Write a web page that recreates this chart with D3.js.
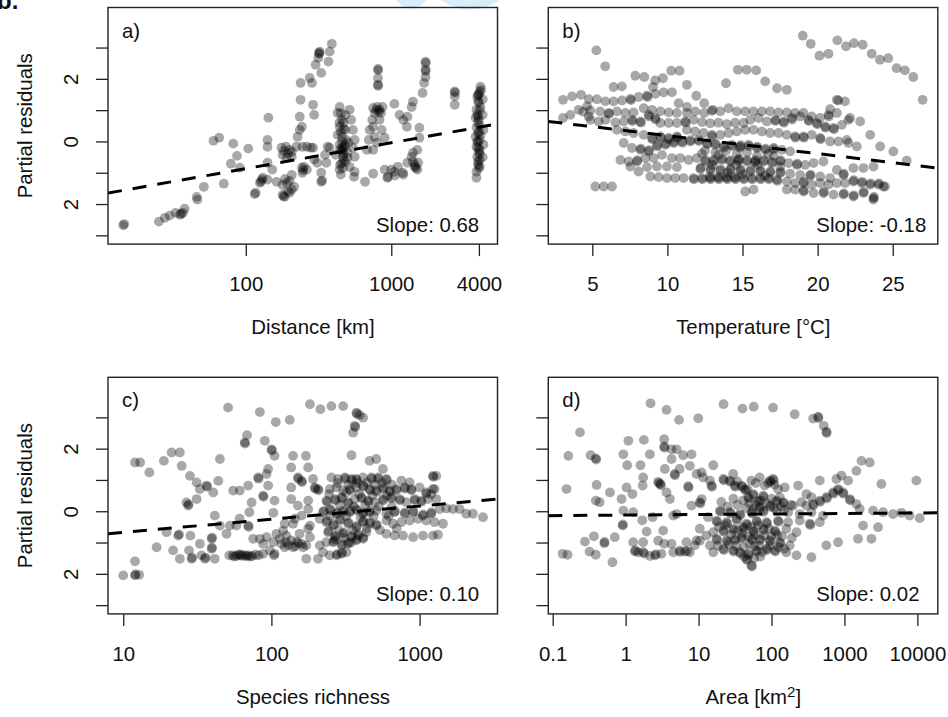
<!DOCTYPE html>
<html><head><meta charset="utf-8">
<script src="https://cdn.jsdelivr.net/npm/d3@7"></script>
<style>
body{margin:0;background:#fff}
svg{display:block}
text{font-family:"Liberation Sans",Arial,Helvetica,sans-serif;fill:#111}
</style>
</head><body>
<svg id="chart" width="948" height="717"></svg>
<script>
// ---------------- DATA ----------------
const residTicks = [-3, -2, -1, 0, 1, 2, 3];
const residTickLabels = ["", "2", "", "0", "", "2", ""];
const residDomain = [-3.28, 4.28];

const distanceTicks = [100, 1000, 4000];
const temperatureTicks = [5, 10, 15, 20, 25];
const richnessTicks = [10, 100, 1000];
const areaTicks = [0.1, 1, 10, 100, 1000, 10000];
const areaTickLabels = ["0.1", "1", "10", "100", "1000", "10000"];

const distanceDomain = [11.3, 5370];
const temperatureDomain = [2.07, 28.0];
const richnessDomain = [7.89, 3357];
const areaDomain = [0.0871, 19055];

const panelLetters = ["a)", "b)", "c)", "d)"];
const slopeLabels = ["Slope: 0.68", "Slope: -0.18", "Slope: 0.10", "Slope: 0.02"];
const xTitles = ["Distance [km]", "Temperature [°C]", "Species richness", "Area [km"];
const yTitle = "Partial residuals";

// fitted regression lines (x, residual) at the plot edges
const distanceFit = [[11.3, -1.65], [5370, 0.56]];
const temperatureFit = [[2.07, 0.64], [28.0, -0.85]];
const richnessFit = [[7.89, -0.72], [3357, 0.39]];
const areaFit = [[0.0871, -0.14], [19055, -0.05]];

// partial residuals: [distance km, residual]
const distancePts = [
[14.4,-2.68],[14.6,-2.64],[25.3,-2.56],[27.8,-2.44],[30,-2.37],[33,-2.28],[35.3,-2.34],[37,-2.28],[36,-2.31],[38,-2.15],
[46,-1.77],[46.5,-1.86],[51.5,-1.45],[60,0.02],[65.6,0.12],[70.6,-1.35],[79,-0.71],[82,-0.07],[87,-0.46],[91,-0.84],[104,-0.23],
[115,-1.68],[117,-1.64],[125,-1.32],[127,-1.28],[129,-1.22],[131,-1.16],[141,-1.22],[143,0.76],[141,0.05],[141,-0.17],[141,-0.68],[152,-0.9],
[176,-0.2],[189,-0.17],[200,-0.27],[191,-0.52],[179,-0.43],[207,-0.33],[183,-0.3],[195,-0.38],
[163,-1.29],[179,-1.39],[192,-1.32],[200,-1.26],[207,-1.07],[215,-1.45],[186,-1.2],
[179,-1.71],[185,-1.77],[200,-1.64],[207,-1.54],[182,-1.75],[195,-1.6],
[207,-0.49],[223,-0.17],[227,0.15],[235,0.37],[243,0.47],[235,0.79],[238,1.33],[238,1.87],
[245,-0.17],[263,-0.17],[280,-0.2],[290,-0.2],[243,-0.84],[252,-0.81],[263,-0.9],[245,-1.0],[248,-0.92],
[275,2.03],[285,1.87],[290,1.17],[295,0.85],[302,2.45],[315,2.67],[318,2.83],[322,2.87],[320,2.8],
[330,2.19],[370,2.55],[377,2.87],[390,3.12],
[295,-0.58],[310,-0.68],[330,-1.0],[330,-1.29],[335,-1.25],[358,-0.68],[365,-0.17],[377,-0.2],[350,-0.43],
[442,1.1],[458,0.69],[442,0.47],[458,0.15],[442,-0.1],[466,-0.27],[500,-0.36],[466,-0.49],[483,-0.65],[442,-0.9],[517,-0.81],
[500,-0.52],[508,-0.04],[483,0.37],[483,0.85],[428,0.91],[428,0.21],[415,-0.43],[475,-0.17],[490,0.05],[450,-1.06],
[455,-0.3],[470,-0.6],[445,-0.75],[460,-0.2],[480,-0.1],[450,0.3],[470,0.6],
[450,0.9],[470,0.4],[460,0.0],[470,-0.4],[455,-0.7],[465,-0.85],[440,0.6],[445,-0.25],
[517,1.01],[530,0.69],[545,0.37],[560,0.05],[545,-0.2],[560,-0.49],
[555,-1.13],[560,-0.97],[660,-1.29],[680,-0.27],[700,0.05],[710,0.37],
[750,1.07],[800,1.1],[830,1.01],[870,1.1],[770,0.91],[850,0.91],[790,1.0],[820,0.95],
[740,0.69],[750,0.47],[770,0.15],[800,-0.04],[750,-0.27],
[810,2.32],[812,2.28],[810,2.03],[810,1.81],[812,1.78],
[830,0.69],[860,0.37],[900,0.12],[750,-1.03],
[900,-0.9],[950,-1.13],[1000,-0.9],[1050,-0.97],[1110,-0.81],[1210,-1.06],[1290,-0.68],[940,-1.16],[1060,-1.09],[1200,-1.0],
[1050,1.2],[1140,0.85],[1210,0.69],[1280,0.47],[1290,0.79],[1380,1.1],[1410,1.27],
[1380,-0.49],[1410,-0.65],[1450,-0.81],[1510,-0.9],[1530,-0.68],[1410,-0.36],[1510,-0.27],[1450,-0.75],[1480,-0.85],
[1560,0.44],[1640,1.55],[1680,1.87],[1720,2.06],[1720,2.29],[1725,2.25],[1720,2.55],[1725,2.5],[1560,0.12],
[2730,1.6],[2740,1.56],[2730,1.44],[2730,1.17],
[4100,1.75],[4050,1.59],[3900,1.43],[4000,1.24],[3850,1.01],[3900,0.85],[3800,0.76],[3950,0.6],[3850,0.44],[4000,0.31],
[3800,0.15],[3950,-0.01],[3850,-0.17],[4000,-0.33],[3900,-0.49],[4050,-0.58],[3950,-0.74],[3850,-0.97],[4250,1.35],[4250,0.85],
[4300,0.37],[4300,-0.1],[4250,-0.5],[3850,-1.16],[4150,1.65],[4100,1.1],[4000,0.7],[4100,0.2],[4050,-0.25],[4000,-0.85],[3950,1.5],[3900,0.0],
[4000,1.5],[3950,1.3],[4050,1.0],[3950,0.8],[4050,0.5],[3950,0.25],[4050,0.05],[3950,-0.2],[4050,-0.4],[3950,-0.65],[4050,-0.8]
];

// [temperature °C, residual]
const temperaturePts = [
[5.27,2.91],[5.86,2.4],[7.86,2.1],[8.46,2.06],[9.19,1.95],[9.7,2.02],[9.04,1.74],[10.25,2.26],[10.81,2.26],[6.42,1.74],[6.97,1.76],
[11.3,1.81],[13.9,1.86],[14.69,2.29],[15.28,2.29],[15.91,2.27],[16.51,1.92],[17.3,1.7],[17.95,1.65],
[19.01,3.38],[19.54,3.12],[20.12,2.74],[20.72,2.8],[21.31,3.23],[21.89,3.04],[22.42,3.14],[23.0,3.09],[23.6,2.8],[24.15,2.61],
[24.7,2.66],[25.26,2.34],[25.81,2.27],[26.37,2.06],[26.99,1.33],[21.38,1.31],[21.82,1.28],[20.83,1.03],
[3.05,1.33],[3.65,1.44],[4.25,1.49],[4.76,1.35],[5.31,1.35],[5.87,1.28],[6.42,1.28],[6.98,1.31],[7.53,1.36],[7.58,1.32],
[8.08,1.42],[8.64,1.46],[8.68,1.42],[9.19,1.52],[9.75,1.57],[10.3,1.57],[10.75,1.22],[11.3,1.1],[11.92,1.46],[12.45,1.22],[13.03,1.01],
[3.05,0.75],[3.54,0.85],[4.09,1.01],[4.65,1.12],[4.76,0.8],[4.4,0.95],
[4.87,0.99],[5.53,0.96],[6.09,0.91],[6.12,0.88],[6.64,0.96],[7.2,0.91],[7.75,0.93],[8.42,1.06],[8.97,1.01],[9.53,0.96],
[10.08,0.93],[10.63,0.91],[11.3,0.91],[11.85,0.96],[12.45,0.91],[12.95,0.98],[13.52,0.96],[14.07,1.06],[14.62,0.96],[15.18,0.96],
[15.73,0.96],[16.29,0.96],[16.84,0.96],[17.4,0.93],[17.95,0.93],[18.5,0.91],[19.06,0.91],[19.61,0.8],[20.17,0.75],[20.72,0.85],
[20.75,0.8],[21.28,0.91],[21.28,1.33],
[4.87,0.69],[5.42,0.64],[5.87,0.69],[6.53,0.61],[7.09,0.64],[7.64,0.69],[7.68,0.65],[8.2,0.64],[8.24,0.6],[8.75,0.85],
[8.78,0.8],[9.19,0.75],[9.22,0.7],[9.53,0.59],[10.08,0.59],[10.63,0.59],[11.19,0.64],[11.22,0.6],[11.74,0.69],[12.3,0.62],
[12.85,0.58],[13.4,0.6],[13.95,0.55],[14.5,0.6],[15.07,0.59],[15.51,0.69],[16.07,0.75],[16.62,0.64],[17.18,0.69],[17.2,0.65],
[17.73,0.64],[17.76,0.6],[18.28,0.75],[18.3,0.7],[18.84,0.8],[19.39,0.69],[19.42,0.65],[19.95,0.59],[19.98,0.55],[20.5,0.48],
[20.53,0.44],[21.06,0.43],[21.09,0.39],[21.61,0.53],[22.05,0.69],[22.83,0.64],[22.16,0.75],
[6.64,0.37],[7.2,0.32],[7.75,0.27],[8.42,0.21],[8.97,0.11],[9.0,0.07],[9.53,0.16],[9.56,0.12],[10.08,0.11],[10.11,0.07],
[10.63,0.16],[10.66,0.12],[11.3,0.37],[11.85,0.32],[12.41,0.27],[12.96,0.21],[12.99,0.17],[13.52,0.21],[14.07,0.27],[14.62,0.32],
[15.18,0.37],[15.73,0.37],[16.29,0.32],[16.84,0.27],[17.4,0.27],[17.95,0.21],[18.5,0.16],[18.53,0.12],[19.06,0.16],[19.09,0.12],
[19.61,0.21],[20.17,0.11],[20.2,0.07],[20.83,0.0],[21.39,0.0],[21.94,0.05],[23.5,0.21],[24.16,-0.16],[25.04,-0.32],[25.93,-0.61],
[7.09,-0.05],[7.64,-0.21],[8.2,-0.27],[8.23,-0.23],[8.75,-0.32],[8.78,-0.28],[9.3,-0.16],[9.33,-0.12],[9.86,-0.11],[9.89,-0.07],
[10.41,-0.05],[10.44,-0.01],[10.97,0.0],[11.0,-0.04],[11.52,0.0],[11.55,0.04],[12.08,0.05],[12.11,0.01],[12.63,-0.05],[12.66,-0.09],
[13.18,-0.11],[13.21,-0.07],[13.74,-0.16],[13.77,-0.2],[14.29,-0.11],[14.32,-0.15],[14.85,-0.16],[14.88,-0.12],[14.82,-0.2],[15.4,-0.11],
[15.43,-0.15],[15.96,-0.21],[15.99,-0.17],[16.51,-0.27],[16.54,-0.23],[17.07,-0.21],[17.1,-0.25],[17.62,-0.27],[18.17,-0.32],[22.05,-0.05],[22.61,-0.16],
[6.87,-0.59],[7.42,-0.64],[7.97,-0.64],[8.0,-0.6],[8.53,-0.53],[9.08,-0.53],[9.64,-0.43],[10.3,-0.53],[10.85,-0.53],[11.41,-0.59],
[11.96,-0.53],[12.52,-0.64],[12.55,-0.6],[13.07,-0.59],[13.1,-0.63],[13.63,-0.59],[13.66,-0.55],[14.18,-0.64],[14.21,-0.6],[14.74,-0.59],
[14.77,-0.55],[14.71,-0.63],[15.29,-0.64],[15.32,-0.6],[15.85,-0.64],[15.88,-0.6],[15.82,-0.68],[16.4,-0.64],[16.43,-0.6],[16.95,-0.69],
[16.98,-0.65],[17.51,-0.64],[17.54,-0.6],[18.06,-0.69],[18.62,-0.75],[18.65,-0.71],[19.17,-0.75],[19.73,-0.69],[20.39,-0.64],[21.28,-0.91],
[21.72,-1.07],[21.75,-1.03],[22.38,-0.85],[23.05,-0.85],[23.72,-0.8],[12.3,-0.39],[13.4,-0.43],[14.62,-0.39],[15.96,-0.46],[17.07,-0.46],
[12.5,-0.3],[13.2,-0.35],[13.9,-0.3],[14.6,-0.75],[15.3,-0.35],[16.0,-0.75],[16.7,-0.4],[13.0,-0.75],[14.0,-1.0],[15.0,-1.05],[16.5,-1.1],[17.5,-0.8],
[7.53,-0.8],[8.08,-0.96],[8.64,-0.82],[9.3,-0.8],[9.97,-0.8],[10.63,-0.82],[12.19,-0.88],[12.22,-0.84],[12.85,-0.91],[12.88,-0.87],
[13.52,-0.93],[13.55,-0.89],[14.18,-0.91],[14.21,-0.87],[14.85,-0.93],[14.88,-0.89],[15.51,-0.96],[15.54,-0.92],[16.18,-0.96],[16.21,-0.92],
[16.84,-0.99],[16.87,-0.95],[17.51,-1.01],[17.54,-0.97],[18.17,-1.03],[18.84,-1.07],[19.5,-1.1],[19.53,-1.06],[20.17,-1.12],[20.83,-1.17],
[8.86,-1.12],[9.41,-1.14],[9.97,-1.17],[10.52,-1.17],[11.08,-1.17],[11.74,-1.17],[11.77,-1.21],[12.3,-1.17],[12.33,-1.21],[12.85,-1.17],
[12.88,-1.21],[12.82,-1.13],[13.4,-1.17],[13.43,-1.21],[13.37,-1.13],[13.96,-1.17],[13.99,-1.21],[13.93,-1.13],[14.51,-1.17],[14.54,-1.21],
[14.48,-1.13],[15.07,-1.17],[15.1,-1.21],[15.62,-1.17],[15.65,-1.21],[16.18,-1.17],[16.21,-1.21],[16.73,-1.17],[16.76,-1.21],[17.29,-1.22],
[17.32,-1.26],[17.95,-1.28],[18.5,-1.33],[19.06,-1.33],[19.09,-1.29],[19.61,-1.38],[20.17,-1.33],[20.72,-1.38],[21.28,-1.33],[21.83,-1.33],
[22.38,-1.28],[22.41,-1.24],[22.94,-1.33],[22.97,-1.29],[23.5,-1.38],[23.53,-1.34],[24.05,-1.38],[24.08,-1.34],
[5.2,-1.44],[5.76,-1.44],[6.31,-1.44],[15.18,-1.6],[15.73,-1.54],[17.95,-1.54],[18.5,-1.54],[19.06,-1.6],[19.09,-1.56],[19.73,-1.65],
[20.39,-1.65],[20.42,-1.61],[21.06,-1.7],[21.72,-1.7],[21.75,-1.66],[22.38,-1.76],[22.41,-1.72],[23.05,-1.65],[23.08,-1.61],[23.72,-1.81],
[23.75,-1.77],[24.38,-1.44],[23.71,-1.86],[24.48,-1.44]
];

// [species richness, residual]
const richnessPts = [
[10,-2.05],[12,-2.05],[12.1,-2.02],[12.8,-2.03],[12,-1.6],[12,1.56],[13,1.56],[15,1.24],[16.8,-1.15],[18.8,1.61],[21.2,1.88],[24.1,1.88],
[19.6,-0.67],[21.7,-1.25],[23.5,-0.78],[23.8,-0.74],[24.8,1.45],[24.1,-1.52],[27.4,0.18],[27.6,0.22],[26.7,0.28],[28.2,1.13],[28.9,-1.52],
[29.2,-1.48],[28.4,-0.78],[27.8,-1.25],[31.3,0.39],[31.3,0.92],[32.9,-1.04],[33.7,-1.41],[35.6,-1.52],[35.9,-1.48],[36.5,0.82],[36.8,0.78],
[32.9,0.71],[39.5,-0.88],[39.8,-0.84],[39.5,-1.2],[39.8,-1.16],[40.5,0.6],[41.5,-0.14],[44.9,1.67],[41.5,-1.52],[43.8,0.97],[44.9,-0.46],
[51,3.31],[52,-1.41],[55,-1.41],[58,-1.43],[61,-1.41],[64,-1.43],[67,-1.41],[70,-1.41],[74,-1.43],[78,-1.39],[82,-1.41],[56,-1.45],
[63,-1.39],[72,-1.45],[60,-1.38],[68,-1.44],
[49.8,-0.72],[52.5,-0.46],[55.2,0.66],[61.2,0.66],[69.7,0.82],[66,2.2],[66.5,2.16],[68.5,2.43],[83.6,3.17],[90.2,2.25],[100,1.98],
[101,1.94],[105,1.77],[107,2.85],[133,2.92],[81.3,1.08],[82,1.04],[92.7,1.19],[95,1.35],[87.9,0.5],[88.5,0.46],[95,0.82],[105,0.34],
[103,-0.05],[73.5,0.28],[69.7,-0.46],[70.3,-0.5],[75.3,-0.88],[83.6,-0.88],[92.7,-0.83],[87.9,-1.04],[97.5,-1.25],[104,-1.41],[108,-0.72],
[114,-0.88],[120,-0.62],[123,-0.4],[140,-0.4],[140,1.77],[136,1.4],[151,1.08],[152,1.04],[160,0.97],[161,0.93],[171,1.77],[177,1.4],
[182,3.42],[214,3.26],[254,3.36],[305,3.36],[375,3.15],[378,3.11],[394,3.07],[416,2.99],[365,2.73],[368,2.69],[356,2.51],[347,1.79],
[460,1.61],[510,1.67],[566,1.35],[1230,1.13],[1240,1.1],[1297,1.13],[1230,0.71],
[88,-1.36],[105,-1.36],[103,-0.99],[117,-1.04],[126,-0.99],[136,-0.93],[148,-0.97],[160,-1.04],[172,-1.09],[123,-1.15],[140,-1.15],
[164,-1.15],[130,-1.08],[152,-1.02],[145,-1.12],[126,-0.78],[155,-0.72],[177,-0.56],[182,-0.83],
[172,-1.52],[206,-1.52],[223,-1.31],[248,-1.41],[275,-1.41],[278,-1.37],[297,-1.36],[300,-1.32],[321,-1.31],[212,-1.09],[235,-0.99],
[71,-0.03],[61,-0.24],[58,-0.46],[136,0.76],[136,0.39],[151,0.18],[177,0.34],[196,0.76],[198,0.72],[206,0.71],[208,0.67],[191,1.03],
[177,0.07],[160,-0.14],[144,-0.24],[182,-0.46],[212,-0.24],
[254,1.08],[282,1.03],[313,1.08],[316,1.04],[347,1.03],[350,0.99],[374,1.03],[377,0.99],[415,1.08],[473,1.08],[476,1.04],[525,1.08],
[528,1.04],[597,1.03],[600,0.99],[753,0.98],[857,0.92],
[248,0.71],[275,0.76],[305,0.66],[338,0.71],[341,0.67],[374,0.76],[415,0.82],[418,0.78],[460,0.71],[463,0.67],[510,0.66],[513,0.62],
[566,0.76],[569,0.72],[628,0.66],[631,0.62],[697,0.71],[700,0.67],[794,0.76],[797,0.72],[879,0.71],[882,0.67],[1000,0.76],[1109,0.6],
[1112,0.56],[1199,0.55],[1262,0.71],
[235,0.34],[238,0.3],[268,0.39],[271,0.35],[297,0.45],[300,0.41],[329,0.29],[332,0.25],[365,0.39],[405,0.45],[408,0.41],[449,0.34],
[452,0.3],[498,0.29],[566,0.39],[569,0.35],[646,0.45],[649,0.41],[735,0.39],[738,0.35],[815,0.29],[927,0.39],[930,0.35],[1028,0.34],
[1031,0.3],[1140,0.39],[1297,0.39],
[223,-0.03],[226,0.01],[248,0.07],[251,0.03],[275,-0.08],[278,-0.04],[305,0.02],[308,-0.02],[338,-0.03],[341,0.01],[374,0.07],[377,0.03],
[415,-0.08],[418,-0.04],[460,-0.03],[463,0.01],[510,0.02],[597,-0.08],[679,-0.03],[682,0.01],[794,-0.08],[797,-0.04],[904,-0.03],[907,0.01],
[1054,-0.14],[1057,-0.1],[1199,-0.08],[1202,-0.04],[1365,0.07],[1514,0.09],[1679,0.07],[1862,0.07],[2065,-0.08],[2291,-0.08],[2679,-0.19],
[235,-0.35],[238,-0.31],[261,-0.46],[264,-0.42],[289,-0.3],[292,-0.26],[329,-0.4],[332,-0.36],[374,-0.51],[377,-0.47],[415,-0.35],[418,-0.31],
[460,-0.4],[463,-0.36],[510,-0.46],[513,-0.42],[597,-0.3],[662,-0.4],[753,-0.35],[857,-0.3],[975,-0.24],[1109,-0.3],[1262,-0.35],[1438,-0.4],
[241,-0.67],[244,-0.63],[268,-0.83],[271,-0.79],[305,-0.72],[308,-0.68],[347,-0.83],[350,-0.79],[385,-0.78],[388,-0.74],[437,-0.67],[597,-0.72],
[679,-0.78],[773,-0.78],[904,-0.83],[1054,-0.78],[1230,-0.78],[1330,-0.75],
[261,-0.99],[264,-0.95],[297,-1.09],[300,-1.05],[329,-1.04],[332,-1.0],[374,-0.93],[377,-0.89],[415,-0.88],[418,-0.84],
[245,0.55],[290,0.2],[320,0.6],[360,0.15],[390,0.55],[430,0.2],[480,0.5],[530,0.15],[600,0.5],[650,0.15],
[250,-0.15],[285,-0.6],[320,-0.15],[355,-0.6],[400,-0.2],[440,-0.55],[490,-0.15],[540,-0.6],[620,-0.15],[700,-0.55],
[280,0.9],[330,0.85],[380,0.9],[440,0.92],[500,0.85],[560,0.9],[650,0.85],[270,-0.9],[310,-0.85],[345,-1.0]
];

// [area km², residual]
const areaPts = [
[2.2,3.45],[3.64,3.24],[5.4,2.92],[9.9,2.97],[22,3.42],[40,3.28],[57,3.34],[105,3.31],[208,3.1],[372,2.96],[436,3.02],[440,2.98],
[520,2.73],[566,2.54],[570,2.5],
[0.237,2.52],[0.164,1.77],[0.155,0.71],[0.137,-1.36],[0.16,-1.39],[0.331,1.79],[0.39,1.69],[0.395,1.65],[0.4,0.84],[0.39,0.34],[0.44,0.29],
[0.277,-0.97],[0.368,-0.8],[0.51,-1.02],[0.515,-0.98],[0.32,-1.29],[0.39,-1.39],[0.66,-1.63],
[0.61,0.6],[0.71,-0.83],[0.91,-0.46],[0.92,-0.42],[0.88,0.39],[0.93,0.02],[1.27,-0.03],
[0.93,1.82],[1.05,1.47],[1.03,0.76],[1.24,0.55],[1.09,2.25],[1.78,2.28],[1.6,1.47],[2.15,1.82],[1.74,1.08],[1.71,0.82],
[1.27,-0.99],[1.34,-1.29],[1.36,-1.25],[1.74,-0.99],[1.49,-1.31],[1.74,-1.31],[2.15,-1.43],[2.52,-1.41],[3.1,-1.36],[1.8,-1.35],[2.6,-1.38],
[1.69,-0.29],[2.34,-0.19],[1.94,-0.65],[3.27,-0.62],[2.8,-0.94],
[2.8,0.94],[2.85,0.9],[3.0,0.87],[3.05,0.83],[3.38,2.3],[3.38,2.07],[3.42,2.03],[4.26,1.98],[5.0,1.98],[4.26,1.67],[4.7,1.19],[4.75,1.15],
[5.5,1.35],[3.45,1.35],[3.64,0.6],[4.05,0.39],[4.5,-0.14],[5.0,-0.09],
[3.38,-1.04],[4.26,-1.04],[4.5,-1.31],[5.5,-1.26],[6.5,-1.29],[7.6,-1.31],[8.9,-1.09],[10.4,-0.94],[5.6,-1.3],[7.0,-1.27],
[6.15,1.79],[8.0,1.82],[7.2,0.8],[7.3,0.76],[9.4,1.19],[10.4,0.29],[10.6,0.25],[8.0,0.18],[7.6,1.45],[11.6,1.08],[15.9,1.47],
[21.8,1.03],[22.3,0.99],[26.8,0.98],[27.3,0.94],[31.4,0.82],[32,0.78],[38.8,0.82],[39.5,0.78],[43,0.71],[44,0.67],
[29.8,1.19],[53,0.98],[69,1.08],[95,0.98],[97,0.94],[105,1.03],[107,0.99],[81,0.82],[123,0.71],[152,0.76],
[48,0.45],[49,0.41],[56,0.55],[57,0.51],[66,0.34],[67,0.3],[77,0.5],[78,0.46],[117,0.34],[119,0.3],[145,0.29],[148,0.25],[130,0.45],
[95,0.18],[97,0.14],[69,0.13],[70,0.09],[56,0.07],[232,0.82],[301,0.55],[353,0.45],[257,0.29],[198,0.18],
[459,0.98],[776,1.03],[909,1.14],[1122,0.98],[1459,1.29],[1710,1.61],[2223,1.56],[3214,0.87],[9680,0.98],
[566,0.45],[575,0.41],[698,0.6],[710,0.56],[818,0.71],[830,0.67],[957,0.6],[970,0.56],[1183,0.39],[1200,0.35],[1459,0.23],[459,0.34],
[466,0.3],[372,0.23],[378,0.19],[301,0.18],
[1622,0.07],[2466,0.02],[3381,-0.03],[4634,-0.09],[6026,-0.05],[7834,-0.14],[10765,-0.22],
[1800,-0.46],[2891,-0.51],[1538,-0.88],[2344,-0.88],[818,-0.99],[566,-1.09],[353,-1.47],[220,-1.41],
[19.6,0.02],[20,-0.02],[26.9,-0.03],[27.4,-0.07],[36.8,-0.09],[37.5,-0.13],[53.2,-0.03],[54,-0.07],[76.7,0.02],[78,-0.02],[117,0.02],
[169,-0.03],[244,-0.09],[353,-0.03],[509,-0.14],
[17.6,-0.3],[18,-0.34],[24.2,-0.35],[24.7,-0.39],[33.1,-0.24],[33.8,-0.28],[45.4,-0.4],[46.3,-0.44],[62.2,-0.3],[63.4,-0.34],[85.3,-0.35],
[87,-0.39],[123,-0.3],[125,-0.34],[169,-0.35],[244,-0.3],[335,-0.4],[342,-0.44],[459,-0.35],
[15.9,-0.67],[21.8,-0.62],[22.3,-0.66],[29.8,-0.56],[30.4,-0.6],[40.8,-0.51],[41.6,-0.55],[56,-0.62],[57.1,-0.66],[76.7,-0.56],[78.2,-0.6],
[111,-0.62],[113,-0.66],[160,-0.56],[220,-0.67],
[17.6,-0.88],[18,-0.92],[24.2,-0.93],[24.7,-0.97],[31.4,-0.88],[32,-0.92],[38.8,-0.83],[39.6,-0.87],[53.2,-0.88],[54.3,-0.92],[69.2,-0.88],
[70.6,-0.92],[94.8,-0.93],[96.7,-0.97],[130,-0.99],[132,-1.03],[178,-1.09],
[15.9,-1.31],[21.8,-1.2],[22.3,-1.24],[29.8,-1.25],[30.4,-1.29],[36.8,-1.31],[37.5,-1.35],[47.9,-1.36],[48.9,-1.4],[62.2,-1.25],[63.4,-1.29],
[85.3,-1.2],[87,-1.24],[111,-1.25],[113,-1.29],[160,-1.31],
[45.4,-1.52],[46.3,-1.56],[53.2,-1.73],[54,-1.77],
[11,0.39],[13.5,-0.19],[10.4,-0.56],[12.8,-0.78],[9.4,-0.93],[14.3,-1.09],[6.8,-0.99],[11,1.24],[14.3,0.98],[15,0.82],[15.3,0.78],
[20.5,0.3],[25,0.15],[30,0.4],[34,0.2],[41,0.35],[45,0.1],[50,0.25],[60,0.2],[72,0.35],[88,0.25],[100,0.4],[110,0.1],[135,0.15],[150,0.05],[185,0.2],
[19,-0.5],[23,-0.45],[28,-0.75],[35,-0.6],[40,-0.7],[48,-0.8],[52,-0.5],[60,-0.75],[66,-0.45],[80,-0.78],[92,-0.55],[100,-0.8],[120,-0.75],[140,-0.8],[190,-0.85],
[18.5,-1.1],[26,-1.05],[33,-1.1],[42,-1.15],[50,-1.05],[58,-1.12],[68,-1.1],[75,-1.3],[95,-1.1],[125,-1.15],[150,-1.2],[42,-1.45],[58,-1.5],[70,-1.45],
[61,0.9],[90,0.9],[47,0.7],[34,0.95],[110,0.85]
];

// ---------------- DRAWING ----------------
const svg = d3.select("#chart");
svg.append("rect").attr("width", 948).attr("height", 717).attr("fill", "#fff");

// faint watermark fragments and clipped panel tag at top
svg.append("path").attr("d", "M399,-3 Q411,11 423,-3").attr("fill", "none")
  .attr("stroke", "#d9ecfa").attr("stroke-width", 9);
svg.append("path").attr("d", "M444,-3 Q470,13 497,-3").attr("fill", "none")
  .attr("stroke", "#d9ecfa").attr("stroke-width", 9);
svg.append("text").attr("x", -3).attr("y", 9).attr("font-size", 24)
  .attr("font-weight", "bold").text("b.");

const PW = 389.5, PH = 236.6, FS = 20.4;
const panels = [
  {pts: distancePts, fit: distanceFit, dom: distanceDomain, log: true, ticks: distanceTicks, labels: distanceTicks.map(String), left: 108, top: 7.5, yLab: true},
  {pts: temperaturePts, fit: temperatureFit, dom: temperatureDomain, log: false, ticks: temperatureTicks, labels: temperatureTicks.map(String), left: 548.3, top: 7.5, yLab: false},
  {pts: richnessPts, fit: richnessFit, dom: richnessDomain, log: true, ticks: richnessTicks, labels: richnessTicks.map(String), left: 108, top: 377.3, yLab: true},
  {pts: areaPts, fit: areaFit, dom: areaDomain, log: true, ticks: areaTicks, labels: areaTickLabels, left: 548.3, top: 377.3, yLab: false}
];

panels.forEach((p, i) => {
  const g = svg.append("g").attr("transform", `translate(${p.left},${p.top})`);
  const x = (p.log ? d3.scaleLog() : d3.scaleLinear()).domain(p.dom).range([0, PW]);
  const y = d3.scaleLinear().domain(residDomain).range([PH, 0]);

  const clipId = "clip" + i;
  g.append("clipPath").attr("id", clipId).append("rect").attr("width", PW).attr("height", PH);
  const plot = g.append("g").attr("clip-path", `url(#${clipId})`);

  plot.selectAll("circle").data(p.pts).join("circle")
    .attr("cx", d => x(d[0])).attr("cy", d => y(d[1]))
    .attr("r", 4.9).attr("fill", "#000").attr("fill-opacity", 0.34);

  plot.append("path").datum(p.fit)
    .attr("d", d3.line().x(d => x(d[0])).y(d => y(d[1])))
    .attr("fill", "none").attr("stroke", "#000").attr("stroke-width", 3)
    .attr("stroke-dasharray", "14 11");

  g.append("rect").attr("width", PW).attr("height", PH)
    .attr("fill", "none").attr("stroke", "#222").attr("stroke-width", 1.4);

  // y axis
  const ya = g.append("g").call(d3.axisLeft(y).tickValues(residTicks).tickSize(12).tickSizeOuter(0)
    .tickFormat((d, k) => p.yLab ? residTickLabels[k] : ""));
  ya.select(".domain").remove();
  ya.selectAll("line").attr("stroke", "#222").attr("stroke-width", 1.3);
  ya.selectAll("text").attr("x", null).attr("dy", null)
    .attr("transform", "translate(-30,0) rotate(-90)").attr("text-anchor", "middle")
    .attr("font-size", FS).attr("font-family", null).attr("fill", "#111");

  // x axis
  const xa = g.append("g").attr("transform", `translate(0,${PH})`)
    .call(d3.axisBottom(x).tickValues(p.ticks).tickSize(12).tickSizeOuter(0)
      .tickFormat((d, k) => p.labels[k]));
  xa.select(".domain").remove();
  xa.selectAll("line").attr("stroke", "#222").attr("stroke-width", 1.3);
  xa.selectAll("text").attr("y", 47).attr("dy", null)
    .attr("font-size", FS).attr("font-family", null).attr("fill", "#111");

  // panel letter & slope
  g.append("text").attr("x", 14).attr("y", 30).attr("font-size", FS).text(panelLetters[i]);
  g.append("text").attr("x", 268).attr("y", PH - 12.5).attr("font-size", FS).text(slopeLabels[i]);

  // x title
  const t = g.append("text").attr("x", 205).attr("y", PH + 90).attr("text-anchor", "middle")
    .attr("font-size", FS).text(xTitles[i]);
  if (i === 3) {
    t.append("tspan").attr("dy", -7).attr("font-size", 15).text("2");
    t.append("tspan").attr("dy", 7).text("]");
  }

  if (p.yLab) {
    g.append("text").attr("transform", `translate(${31.5 - p.left},${PH / 2}) rotate(-90)`)
      .attr("text-anchor", "middle").attr("font-size", FS).text(yTitle);
  }
});
</script>
</body></html>
